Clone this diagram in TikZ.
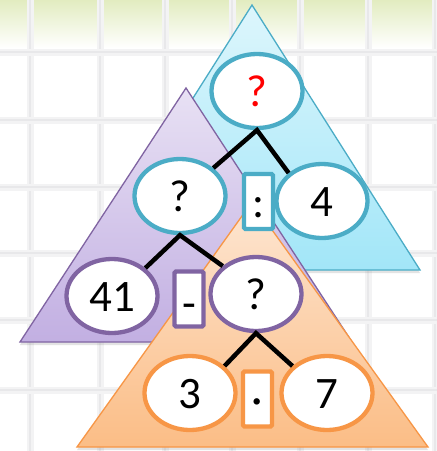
\documentclass[tikz,border=0pt]{standalone}
\usepackage{fontspec}
\setmainfont{Carlito}
\usetikzlibrary{shapes.geometric,shadows}
\definecolor{bluedge}{HTML}{4BACC6}
\definecolor{bluetop}{HTML}{DDF6FC}
\definecolor{bluebot}{HTML}{A2E6F8}
\definecolor{purpedge}{HTML}{8064A2}
\definecolor{purptop}{HTML}{E8E1F4}
\definecolor{purpbot}{HTML}{C2AFE2}
\definecolor{orgedge}{HTML}{F79646}
\definecolor{orgtop}{HTML}{FDE6D2}
\definecolor{orgbot}{HTML}{FBBD86}
\definecolor{bandtop}{HTML}{E2ECC0}
\definecolor{gridc}{HTML}{E8E8EA}
\definecolor{gridd}{HTML}{F3F3F4}
\tikzset{
  tri/.style={line width=1.3pt, line join=miter, drop shadow={opacity=0.22, shadow xshift=0pt, shadow yshift=-3pt}},
  oval/.style={ellipse, draw, fill=white, line width=4.3pt, inner sep=0pt,
    minimum width=91pt, minimum height=74pt, font=\fontsize{45}{47}\selectfont,
    text height=31pt, text depth=0pt},
  opbox/.style={rectangle, draw, fill=white, line width=4.3pt, rounded corners=1.5pt, inner sep=0pt,
    minimum width=29pt, minimum height=55pt, font=\fontsize{45}{47}\selectfont,
    text height=31pt, text depth=0pt},
  lvlA/.style={draw=bluedge},
  lvlB/.style={draw=purpedge},
  lvlC/.style={draw=orgedge},
  link/.style={line width=4.5pt, black}
}
\begin{document}
\begin{tikzpicture}[x=1pt,y=-1pt]
\useasboundingbox (0,0) rectangle (437,451);
% background
\fill[white] (0,0) rectangle (437,451);
\shade[top color=bandtop, bottom color=white] (0,0) rectangle (437,48);
\foreach \gx in {30,100,165,232,300,368,435}{
  \draw[gridd, line width=7pt] (\gx,0) -- (\gx,451);
  \draw[gridc, line width=2.5pt] (\gx,0) -- (\gx,451);
}
\foreach \gy in {52,120,187,253,320,390}{
  \draw[gridd, line width=7pt] (0,\gy) -- (437,\gy);
  \draw[gridc, line width=2.5pt] (0,\gy) -- (437,\gy);
}
% triangles
\path[tri, draw=bluedge, top color=bluetop, bottom color=bluebot] (252,5) -- (420,270) -- (84,270) -- cycle;
\path[tri, draw=purpedge, top color=purptop, bottom color=purpbot] (186,88) -- (352,342) -- (20,342) -- cycle;
\path[tri, draw=orgedge, top color=orgtop, bottom color=orgbot] (252,202) -- (428,447) -- (77,447) -- cycle;
% level 1 (blue)
\node[oval, lvlA, text=red] (top) at (257,91) {?};
\node[oval, lvlA] (q1) at (180,196) {?};
\node[oval, lvlA] (n4) at (322,201) {4};
\node[opbox, lvlA] (d1) at (258.5,201.5) {:};
% level 2 (purple)
\node[oval, lvlB] (n41) at (112,296) {41};
\node[oval, lvlB] (q2) at (256,294) {?};
\node[opbox, lvlB] (d2) at (189,299) {\raisebox{-4pt}{-}};
% level 3 (orange)
\node[oval, lvlC] (n3) at (190,393) {3};
\node[oval, lvlC] (n7) at (327,393) {7};
\node[opbox, lvlC] (d3) at (257.5,399) {·};
% connectors
\draw[link] (q1.40) -- (top.south) -- (n4.140);
\draw[link] (n41.40) -- (q1.south) -- (q2.140);
\draw[link] (n3.38) -- (q2.south) -- (n7.142);
\end{tikzpicture}
\end{document}
